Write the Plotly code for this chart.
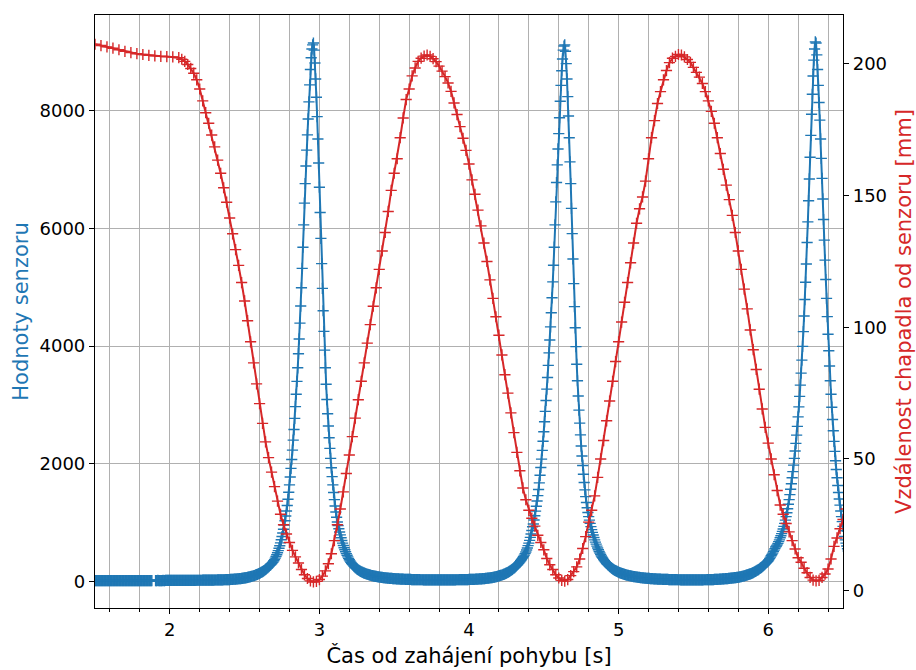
import numpy as np
import plotly.graph_objects as go

# ---------------- data ----------------
# Blue: sensor readings (Hodnoty senzoru); segments = (start time [s], step [s], values)
blue_a1_start, blue_a1_step = 1.500, 0.005
blue_a1 = [14, 13, 13, 14, 14, 13, 14, 14, 13, 14, 14, 13, 13, 14, 14, 14, 13, 14, 14, 13,
           14, 14, 14, 13, 13, 14, 14, 14, 14, 14, 14, 13, 14, 14, 14, 14, 13, 14, 14, 14,
           14, 14, 13, 13, 14, 14, 14, 14, 14, 14, 14, 14, 13, 14, 14, 14, 14, 14, 14, 14,
           14, 14, 14, 14, 14, 13, 13, 14, 14, 14, 14, 14, 14, 14, 13, 14, 14]
blue_a2_start, blue_a2_step = 1.905, 0.005
blue_a2 = [14, 14, 14, 15, 14, 14, 14, 14,
           14, 14, 15, 14, 14, 15, 15, 15, 15, 15, 15,
           15, 15, 15, 16, 16, 16, 15, 16, 16, 16, 16, 16, 16, 16, 16, 17, 17, 17, 16, 17,
           17, 17, 17, 17, 17, 17, 18, 18, 17, 18, 18, 18, 18, 18, 18, 18, 19, 19, 19, 19,
           19, 19, 19, 19, 20, 20, 20, 20, 20, 20, 21, 21, 21, 21, 21, 21, 22, 22, 22, 22,
           23, 23, 23, 23, 24, 24, 24, 24, 25, 25, 26, 26, 27, 27, 28, 28, 29, 29, 30, 30,
           31, 32, 33, 34, 35, 36, 37, 38, 39, 40, 41, 42, 44, 45, 47, 48, 50, 52, 54, 56,
           58, 60, 63, 65, 68, 71, 74, 77, 80, 83, 87, 91, 95, 99, 104, 109, 114, 119, 125, 131,
           137, 144, 151, 158, 166, 174, 183, 192, 202, 212, 223, 234, 246, 259, 272, 286, 300, 315, 330, 350]
blue_p1_start, blue_p1_step = 2.700, 0.005
blue_p1 = [370, 395, 422, 452, 485, 522, 562, 606, 654, 706,
           762, 822, 886, 955, 1030, 1110, 1195, 1290, 1395, 1515,
           1640, 1775, 1920, 2070, 2230, 2400, 2580, 2770, 2970, 3180,
           3400, 3630, 3870, 4120, 4390, 4680, 4990, 5320, 5680, 6060,
           6430, 6760, 7060, 7330, 7590, 7860, 8150, 8440, 8700, 8900,
           9050, 9120, 9150, 9030, 8810, 8540, 8230, 7900, 7520, 7110,
           6700, 6270, 5830, 5400, 4980, 4600, 4250, 3930, 3630, 3350,
           3090, 2850, 2640, 2440, 2260, 2090, 1930, 1780, 1640, 1510,
           1390, 1280, 1180, 1090, 1010, 950, 895, 840, 790, 740,
           695, 650, 610, 572, 536, 503, 472, 443, 416, 391]
blue_b_start, blue_b_step = 3.200, 0.005
blue_b = [368, 346, 325, 307, 290, 275, 260, 247, 234, 223, 212, 202, 193, 185, 177, 170, 163, 157, 151, 145,
          140, 135, 130, 125, 121, 117, 113, 109, 106, 102, 99, 96, 93, 90, 88, 85, 83, 80, 78, 76,
          74, 72, 70, 68, 66, 64, 63, 61, 60, 58, 57, 55, 54, 53, 52, 51, 50, 49, 48, 47,
          46, 45, 44, 43, 42, 41, 41, 40, 39, 38, 38, 37, 37, 36, 36, 35, 35, 34, 34, 33,
          33, 32, 32, 31, 31, 30, 30, 30, 30, 29, 29, 28, 28, 28, 28, 27, 27, 27, 27, 26,
          26, 26, 26, 25, 25, 25, 25, 25, 25, 25, 25, 24, 24, 24, 24, 24, 24, 24, 24, 24,
          24, 24, 24, 24, 24, 24, 24, 24, 25, 25, 25, 25, 25, 25, 25, 25, 26, 26, 26, 26,
          26, 26, 26, 27, 27, 27, 27, 28, 28, 28, 28, 29, 29, 29, 29, 30, 30, 30, 31, 31,
          32, 32, 32, 33, 34, 34, 35, 35, 36, 37, 38, 38, 39, 40, 41, 42, 42, 43, 45, 46,
          47, 48, 50, 51, 53, 54, 55, 57, 59, 61, 63, 65, 68, 70, 73, 75, 78, 81, 85, 88,
          92, 96, 100, 104, 108, 112, 117, 122, 128, 134, 140, 147, 154, 161, 169, 177, 185, 194, 204, 214,
          224, 235, 247, 260, 273, 287, 301, 316, 332, 349, 367, 386, 405, 425, 445, 472]
blue_p2_start, blue_p2_step = 4.380, 0.005
blue_p2 = [500, 533, 568, 607, 650, 697, 748, 804, 864, 928,
           975, 1044, 1116, 1194, 1277, 1365, 1458, 1561, 1674, 1803,
           1935, 2077, 2227, 2381, 2542, 2712, 2890, 3075, 3267, 3466,
           3672, 3884, 4102, 4326, 4566, 4820, 5090, 5373, 5680, 6060,
           6450, 6780, 7080, 7350, 7610, 7880, 8160, 8430, 8680, 8880,
           9030, 9100, 9120, 9010, 8800, 8540, 8240, 7910, 7540, 7130,
           6760, 6340, 5910, 5480, 5060, 4670, 4310, 3990, 3690, 3410,
           3150, 2910, 2690, 2490, 2300, 2130, 1970, 1820, 1680, 1555,
           1440, 1340, 1250, 1170, 1100, 1040, 985, 930, 880, 832,
           787, 745, 705, 667, 632, 598, 566, 536, 508, 481]
blue_c_start, blue_c_step = 4.880, 0.005
blue_c = [456, 432, 410, 390, 370, 352, 335, 319, 304, 290, 277, 265, 253, 242, 232, 222, 213, 204, 196, 188,
          181, 174, 168, 162, 156, 150, 145, 140, 135, 130, 126, 122, 118, 114, 111, 107, 104, 101, 98, 95,
          92, 89, 87, 84, 82, 80, 78, 76, 74, 72, 70, 68, 66, 64, 63, 61, 60, 58, 57, 55,
          54, 53, 52, 51, 50, 49, 48, 47, 46, 45, 44, 43, 42, 41, 41, 40, 39, 38, 38, 37,
          37, 36, 36, 35, 35, 34, 34, 33, 33, 32, 32, 31, 31, 30, 30, 30, 30, 29, 29, 28,
          28, 28, 28, 27, 27, 27, 27, 26, 26, 26, 26, 26, 26, 25, 25, 25, 25, 25, 25, 25,
          25, 25, 25, 25, 25, 25, 25, 25, 25, 25, 25, 25, 25, 26, 26, 26, 26, 26, 27, 27,
          27, 27, 28, 28, 28, 29, 29, 29, 30, 30, 31, 31, 32, 32, 33, 34, 35, 35, 36, 37,
          38, 39, 40, 41, 42, 43, 44, 45, 46, 47, 48, 50, 51, 53, 54, 56, 57, 59, 60, 62,
          63, 65, 66, 68, 70, 72, 75, 78, 81, 84, 87, 91, 94, 98, 101, 105, 109, 114, 118, 123,
          127, 132, 137, 143, 150, 156, 163, 170, 177, 185, 193, 201, 210, 219, 228, 238, 248, 259, 270, 282,
          295, 308, 322, 336, 350, 370, 390, 412, 435, 457, 480, 505, 530, 557, 585, 602]
blue_p3_start, blue_p3_step = 6.060, 0.005
blue_p3 = [620, 645, 675, 705, 740, 775, 812, 850, 890, 935,
           985, 1040, 1100, 1165, 1235, 1310, 1390, 1475, 1565, 1660,
           1760, 1865, 1975, 2090, 2215, 2345, 2485, 2635, 2795, 2965,
           3145, 3335, 3540, 3760, 3995, 4245, 4510, 4790, 5085, 5395,
           5760, 6110, 6470, 6840, 7210, 7580, 7940, 8280, 8590, 8860,
           9050, 9170, 9150, 8950, 8700, 8430, 8140, 7840, 7520, 7190,
           6850, 6500, 6150, 5800, 5460, 5130, 4810, 4500, 4200, 3920,
           3660, 3410, 3180, 2960, 2750, 2560, 2380, 2210, 2050, 1900,
           1760, 1630, 1510, 1400, 1295, 1195, 1100, 1015, 935, 860,
           765, 705, 650, 600, 555, 515, 478, 445, 415, 388]

# Red: gripper distance from sensor [mm]
red_a_start, red_a_step = 1.50, 0.04
red_a = [207.5, 207.0, 206.5, 206.0, 205.4, 204.8, 204.3, 203.9, 203.6, 203.3,
         203.1, 202.9, 202.8, 202.7, 202.4]
red_b_start, red_b_step = 2.08, 0.02
red_b = [201.8, 201.0, 199.8, 198.3, 196.5, 194.0, 190.5, 186.0, 181.5, 177.5,
         173.0, 168.5, 163.5, 158.5, 153.0, 147.5, 141.5, 135.5, 129.5, 123.5,
         117.0, 110.0, 102.5, 94.5, 86.5, 78.5, 71.0, 63.5, 56.5, 50.5,
         45.0, 39.5, 34.0, 29.0, 25.0, 21.5, 18.3, 15.3, 12.8, 10.5,
         8.0, 6.0, 4.6, 3.7, 3.3, 3.5, 4.2, 5.5, 7.5, 10.2,
         14.0, 19.0, 25.0, 31.0, 37.5, 44.5, 51.5, 58.5, 65.5, 72.5,
         79.5, 86.5, 94.0, 101.0, 108.0, 115.0, 122.0, 129.0, 136.0, 144.0,
         152.0, 158.5, 164.0, 172.0, 179.5, 186.5, 190.5, 195.5, 198.5, 201.0,
         202.2, 203.0, 203.4, 202.9, 202.0, 200.9, 199.2, 197.3, 195.2, 192.8,
         189.6, 185.2, 180.8, 176.2, 171.8, 167.2, 162.0, 156.0, 150.5, 144.5,
         138.5, 132.0, 125.0, 118.0, 111.0, 104.0, 97.0, 89.5, 82.0, 75.0,
         67.5, 60.0, 52.5, 45.5, 39.0, 34.5, 30.5, 27.5, 24.5, 21.0,
         18.3, 15.5, 12.2, 9.8, 8.0, 6.0, 4.8, 3.9, 3.6, 4.2,
         5.7, 7.2, 9.0, 12.0, 16.0, 20.5, 26.0, 30.5, 36.0, 43.0,
         50.0, 57.0, 64.5, 72.0, 79.5, 87.0, 94.5, 102.0, 109.5, 117.0,
         124.5, 132.0, 139.5, 145.0, 149.5, 155.5, 164.0, 172.0, 178.5, 185.0,
         189.5, 194.0, 197.5, 200.5, 202.2, 202.9, 203.6, 203.4, 202.7, 201.7,
         200.6, 198.7, 196.8, 195.0, 192.6, 189.5, 186.0, 182.0, 177.5, 172.0,
         166.0, 160.0, 154.0, 148.5, 142.5, 136.0, 129.0, 122.0, 114.5, 107.0,
         99.0, 91.5, 84.0, 76.5, 69.0, 62.0, 56.0, 50.0, 44.0, 38.0,
         32.5, 29.0, 25.5, 22.3, 19.0, 15.8, 12.5, 10.8, 8.5, 6.8,
         5.0, 4.0, 3.7, 3.9, 5.0, 6.3, 8.2, 12.0, 16.8, 20.0,
         23.5, 27.0, 31.0]

x_ticks = [2, 3, 4, 5, 6]
y1_ticks = [0, 2000, 4000, 6000, 8000]
y2_ticks = [0, 50, 100, 150, 200]

x_title = "Čas od zahájení pohybu [s]"
y1_title = "Hodnoty senzoru"
y2_title = "Vzdálenost chapadla od senzoru [mm]"


def seg_times(start, step, vals):
    return list(start + step * np.arange(len(vals)))


blue_x, blue_y = [], []
segs = [(blue_a1_start, blue_a1_step, blue_a1), None,
        (blue_a2_start, blue_a2_step, blue_a2),
        (blue_p1_start, blue_p1_step, blue_p1),
        (blue_b_start, blue_b_step, blue_b),
        (blue_p2_start, blue_p2_step, blue_p2),
        (blue_c_start, blue_c_step, blue_c),
        (blue_p3_start, blue_p3_step, blue_p3)]
for s in segs:
    if s is None:
        blue_x.append(None)
        blue_y.append(None)
    else:
        blue_x += seg_times(*s)
        blue_y += list(s[2])

red_x = seg_times(red_a_start, red_a_step, red_a) + seg_times(red_b_start, red_b_step, red_b)
red_y = list(red_a) + list(red_b)

BLUE = "#1f77b4"
RED = "#d62728"
FONT = "DejaVu Sans"
GRID = "#b0b0b0"

fig = go.Figure()
fig.add_trace(go.Scatter(
    x=blue_x, y=blue_y, mode="lines+markers", yaxis="y",
    line=dict(color=BLUE, width=2),
    marker=dict(symbol="cross-thin", size=8, color=BLUE,
                line=dict(color=BLUE, width=1.4)),
    showlegend=False, connectgaps=False, cliponaxis=True))
fig.add_trace(go.Scatter(
    x=red_x, y=red_y, mode="lines+markers", yaxis="y2",
    line=dict(color=RED, width=2),
    marker=dict(symbol="cross-thin", size=8, color=RED,
                line=dict(color=RED, width=1.4)),
    showlegend=False, cliponaxis=True))

fig.update_layout(
    width=916, height=670,
    margin=dict(l=95, r=73, t=15, b=62),
    paper_bgcolor="white", plot_bgcolor="white",
    font=dict(family=FONT, size=18, color="black"),
    xaxis=dict(
        range=[1.5, 6.5], tickvals=x_ticks, ticktext=[str(v) for v in x_ticks],
        ticks="outside", ticklen=5, tickwidth=1, tickcolor="black",
        showline=True, linecolor="black", linewidth=1.2, mirror=True,
        showgrid=True, gridcolor=GRID, gridwidth=1, zeroline=False,
        minor=dict(dtick=0.2, tick0=0, ticks="outside", ticklen=3,
                   tickcolor="black", showgrid=True, gridcolor=GRID, gridwidth=1),
        title=dict(text=x_title, font=dict(size=21, color="black"), standoff=9),
        automargin=False,
    ),
    yaxis=dict(
        range=[-453, 9627], tickvals=y1_ticks, ticktext=[str(v) for v in y1_ticks],
        ticks="outside", ticklen=5, tickwidth=1, tickcolor="black",
        showline=True, linecolor="black", linewidth=1.2,
        showgrid=True, gridcolor=GRID, gridwidth=1, zeroline=False,
        title=dict(text=y1_title, font=dict(size=21, color=BLUE), standoff=5),
        automargin=False,
    ),
    yaxis2=dict(
        range=[-6.6, 218.6], tickvals=y2_ticks, ticktext=[str(v) for v in y2_ticks],
        overlaying="y", side="right", anchor="x",
        ticks="outside", ticklen=5, tickwidth=1, tickcolor="black",
        showline=True, linecolor="black", linewidth=1.2,
        showgrid=False, zeroline=False,
        title=dict(text=y2_title, font=dict(size=21, color=RED), standoff=12),
        automargin=False,
    ),
)

fig.write_html("out.html")
